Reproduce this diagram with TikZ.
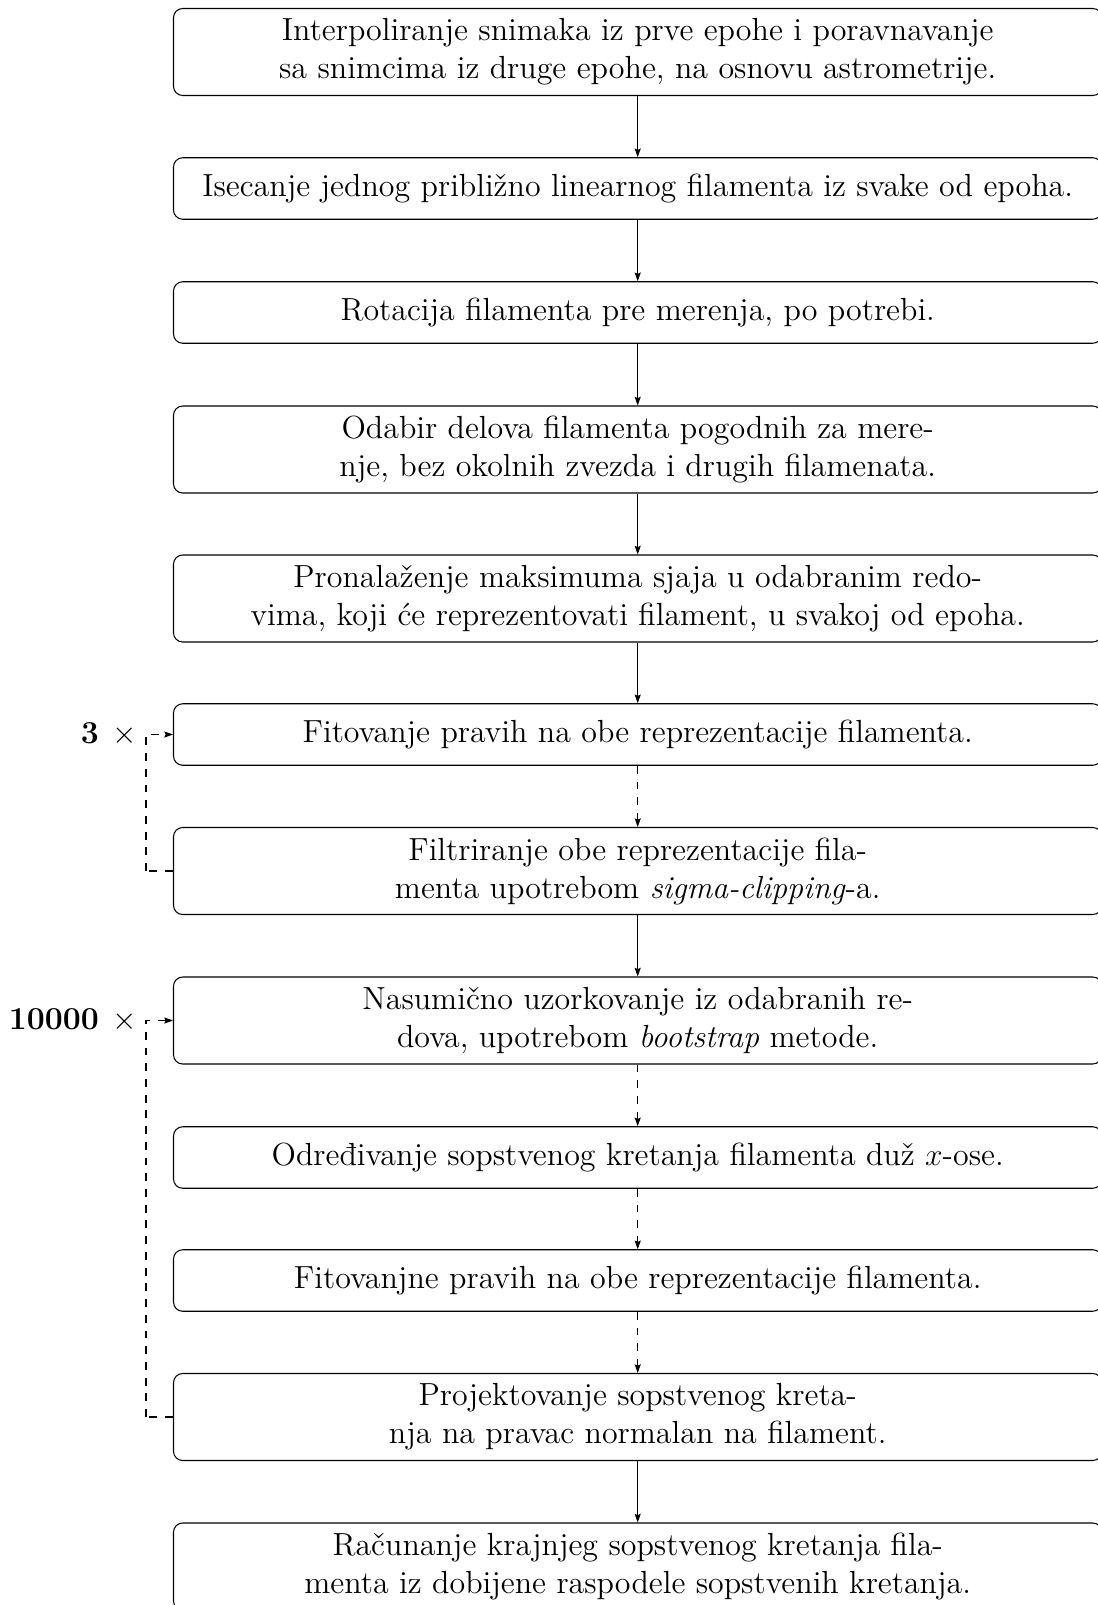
\documentclass[tikz,border=0pt]{standalone}
\usetikzlibrary{arrows.meta}
\begin{document}
\begin{tikzpicture}[x=0.3816pt,y=-0.3816pt,
  stepbox/.style={draw=black,rounded corners=3.5pt,minimum width=928.4*0.3816pt,align=center,
    inner sep=0pt,font=\fontsize{12.2}{14.5}\selectfont},
  one/.style={stepbox,minimum height=61.5*0.3816pt},
  two/.style={stepbox,minimum height=87*0.3816pt},
  flow/.style={-{Stealth[length=3.3pt,width=2.3pt,inset=0.5pt]},line width=0.4pt},
  dflow/.style={flow,dashed},
  loopline/.style={dashed,line width=0.4pt},
  looplabel/.style={anchor=east,inner sep=0pt,font=\fontsize{12.2}{14.5}\selectfont}]
\useasboundingbox (0,0) rectangle (1097,1605);
\node[two] (b1) at (637.7,52) {Interpoliranje snimaka iz prve epohe i poravnavanje\\sa snimcima iz druge epohe, na osnovu astrometrije.};
\node[one] (b2) at (637.7,188.5) {Isecanje jednog približno linearnog filamenta iz svake od epoha.};
\node[one] (b3) at (637.7,312.5) {Rotacija filamenta pre merenja, po potrebi.};
\node[two] (b4) at (637.7,449.5) {Odabir delova filamenta pogodnih za mere-\\nje, bez okolnih zvezda i drugih filamenata.};
\node[two] (b5) at (637.7,598.5) {Pronalaženje maksimuma sjaja u odabranim redo-\\vima, koji će reprezentovati filament, u svakoj od epoha.};
\node[one] (b6) at (637.7,734.5) {Fitovanje pravih na obe reprezentacije filamenta.};
\node[two] (b7) at (637.7,871) {Filtriranje obe reprezentacije fila-\\menta upotrebom \textit{sigma-clipping}-a.};
\node[two] (b8) at (637.7,1020.5) {Nasumično uzorkovanje iz odabranih re-\\dova, upotrebom \textit{bootstrap} metode.};
\node[one] (b9) at (637.7,1157.5) {Određivanje sopstvenog kretanja filamenta duž $x$-ose.};
\node[one] (b10) at (637.7,1280.5) {Fitovanjne pravih na obe reprezentacije filamenta.};
\node[two] (b11) at (637.7,1417) {Projektovanje sopstvenog kreta-\\nja na pravac normalan na filament.};
\node[two] (b12) at (637.7,1566.5) {Računanje krajnjeg sopstvenog kretanja fila-\\menta iz dobijene raspodele sopstvenih kretanja.};

\draw[flow] (b1) -- (b2);
\draw[flow] (b2) -- (b3);
\draw[flow] (b3) -- (b4);
\draw[flow] (b4) -- (b5);
\draw[flow] (b5) -- (b6);
\draw[dflow] (b6) -- (b7);
\draw[flow] (b7) -- (b8);
\draw[dflow] (b8) -- (b9);
\draw[dflow] (b9) -- (b10);
\draw[dflow] (b10) -- (b11);
\draw[flow] (b11) -- (b12);

\coordinate (c1) at (146,871);
\coordinate (c2) at (146,1417);
\draw[loopline] (b7.west) -- (c1);
\draw[dflow] (c1) |- (b6.west);
\draw[loopline] (b11.west) -- (c2);
\draw[dflow] (c2) |- (b8.west);

\node[looplabel] (l1) at (137.5,734.5) {\textbf{3}\hspace{1.2pt} $\times$};
\node[looplabel] (l2) at (137.5,1020.5) {\textbf{10000}\hspace{1.2pt} $\times$};
\end{tikzpicture}
\end{document}
